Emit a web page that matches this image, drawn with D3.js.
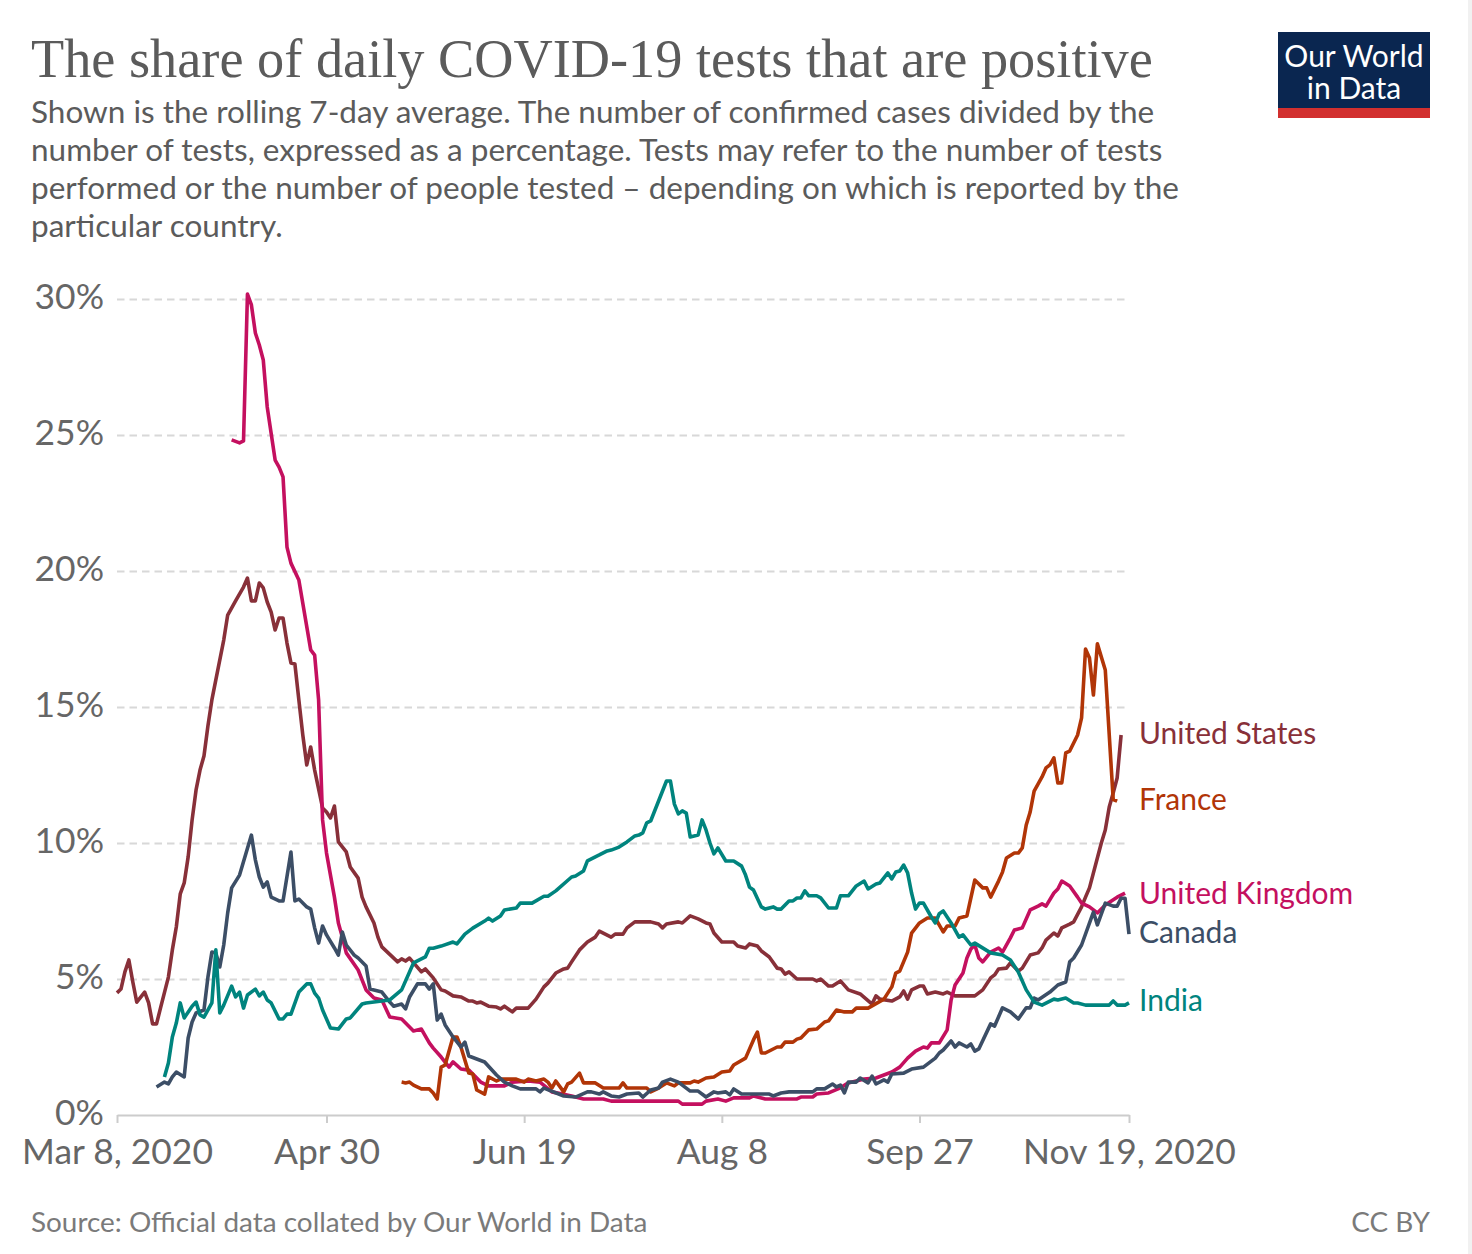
<!DOCTYPE html>
<html>
<head>
<meta charset="utf-8">
<script src="https://cdn.jsdelivr.net/npm/d3@7"></script>
<style>
  html, body { margin: 0; padding: 0; background: #fff; }
  svg { display: block; }
  text { font-family: Lato, sans-serif; }
  .title { font-family: "Liberation Serif", serif; font-size: 54.3px; fill: #5b5b5b; }
  .subtitle { font-size: 31.5px; fill: #5b5b5b; }
  .footer { font-size: 27.9px; fill: #7a7a7a; }
  .tick-label { font-size: 35.4px; fill: #666; }
  .series-label { font-size: 30px; }
</style>
</head>
<body>
<svg width="1472" height="1254"></svg>
<script>
// values are [days since Mar 8 2020, % positive]
var unitedStates = [[0,4.49],[1,4.63],[2,5.26],[3,5.70],[4,4.89],[5,4.15],[7,4.52],[8,4.12],[9,3.35],[10,3.35],[11,3.93],[13,5.07],[14,6.07],[15,6.91],[16,8.13],[17,8.53],[18,9.49],[19,10.85],[20,11.95],[21,12.68],[22,13.2],[23,14.3],[24,15.26],[25,16.0],[27,17.46],[28,18.38],[30,18.9],[32,19.41],[33,19.74],[34,18.9],[35,18.9],[36,19.56],[37,19.38],[38,18.86],[39,18.49],[40,17.83],[41,18.27],[42,18.27],[43,17.35],[44,16.62],[45,16.58],[46,15.26],[47,13.97],[48,12.87],[49,13.53],[50,12.68],[52,11.29],[53,11.14],[54,10.92],[55,11.36],[56,10.04],[58,9.67],[59,9.12],[61,8.71],[62,8.01],[63,7.65],[65,7.06],[66,6.54],[67,6.18],[71,5.63],[72,5.74],[73,5.66],[74,5.77],[77,5.26],[78,5.37],[80,5.04],[82,4.6],[83,4.56],[85,4.38],[87,4.34],[89,4.19],[90,4.19],[91,4.12],[92,4.15],[94,4.0],[96,3.97],[97,3.9],[98,4.0],[100,3.79],[101,3.93],[104,3.93],[106,4.26],[108,4.71],[109,4.85],[111,5.22],[113,5.37],[114,5.4],[115,5.63],[117,6.07],[119,6.36],[121,6.54],[122,6.76],[125,6.54],[126,6.65],[128,6.65],[129,6.88],[131,7.1],[135,7.1],[137,7.02],[138,6.88],[139,7.02],[142,7.1],[143,7.06],[145,7.32],[147,7.21],[149,7.06],[150,7.02],[151,6.69],[153,6.36],[156,6.36],[157,6.21],[159,6.14],[160,6.29],[162,6.21],[163,6.03],[165,5.81],[167,5.4],[168,5.37],[169,5.18],[170,5.26],[172,5.0],[176,5.0],[177,4.93],[178,5.0],[180,4.74],[181,4.74],[183,4.93],[185,4.6],[188,4.45],[191,4.08],[192,4.38],[193,4.26],[196,4.19],[198,4.34],[199,4.56],[200,4.26],[201,4.6],[203,4.74],[204,4.74],[205,4.45],[207,4.52],[209,4.45],[210,4.52],[212,4.38],[217,4.38],[219,4.6],[221,5.04],[222,5.15],[223,5.37],[225,5.4],[226,5.59],[228,5.29],[229,5.4],[231,5.88],[233,5.96],[234,6.14],[235,6.43],[237,6.69],[238,6.58],[239,6.88],[241,7.02],[242,7.1],[244,7.65],[245,8.01],[246,8.35],[249,10.0],[250,10.48],[251,11.32],[252,11.84],[253,12.39],[254,13.97]];

var unitedKingdom = [[29,24.82],[31,24.71],[32,24.78],[33,30.18],[34,29.78],[35,28.75],[36,28.31],[37,27.76],[38,26.03],[40,24.08],[41,23.82],[42,23.46],[43,20.88],[44,20.29],[46,19.67],[49,17.1],[50,16.91],[51,15.26],[52,10.85],[53,9.63],[55,8.01],[56,7.06],[57,6.54],[58,5.96],[61,5.33],[63,4.6],[65,4.3],[67,4.23],[69,3.6],[72,3.53],[75,3.09],[77,3.16],[79,2.65],[80,2.46],[82,2.13],[84,1.76],[85,1.95],[87,1.69],[89,1.65],[92,1.21],[94,1.07],[98,1.07],[100,1.21],[104,1.25],[107,1.21],[110,0.85],[115,0.7],[118,0.59],[123,0.59],[125,0.51],[142,0.51],[143,0.4],[148,0.4],[149,0.51],[152,0.59],[154,0.51],[156,0.63],[160,0.63],[161,0.7],[164,0.59],[172,0.59],[173,0.66],[176,0.66],[177,0.77],[180,0.81],[183,1.0],[185,1.18],[189,1.32],[192,1.36],[196,1.58],[198,1.76],[200,2.09],[202,2.35],[204,2.5],[205,2.46],[206,2.65],[208,2.65],[210,3.13],[211,4.23],[212,4.78],[214,5.22],[215,5.77],[216,6.1],[217,6.25],[218,5.77],[219,5.63],[221,5.99],[223,6.14],[224,5.99],[226,6.51],[227,6.8],[229,6.88],[231,7.54],[233,7.68],[234,7.76],[235,7.68],[237,8.16],[238,8.31],[239,8.6],[241,8.42],[243,8.01],[244,7.79],[246,7.65],[248,7.43],[250,7.72],[253,8.01],[255,8.16]];

var france = [[72,1.21],[73,1.18],[74,1.21],[75,1.1],[77,0.96],[79,0.96],[80,0.81],[81,0.59],[82,1.76],[83,1.84],[85,2.87],[86,2.87],[87,2.5],[89,1.54],[90,1.51],[91,0.92],[93,0.77],[94,1.4],[96,1.25],[97,1.32],[101,1.32],[103,1.21],[104,1.32],[106,1.25],[108,1.32],[109,1.21],[110,0.99],[111,1.25],[113,0.85],[114,1.14],[115,1.21],[117,1.54],[118,1.18],[121,1.18],[123,0.99],[127,0.99],[128,1.18],[129,0.99],[134,0.99],[135,0.85],[137,0.99],[139,1.18],[141,1.07],[142,1.18],[145,1.18],[146,1.25],[147,1.21],[149,1.36],[151,1.4],[153,1.58],[155,1.62],[156,1.84],[159,2.09],[161,2.76],[162,3.05],[163,2.28],[164,2.28],[167,2.5],[168,2.5],[169,2.68],[171,2.68],[172,2.79],[173,2.83],[175,3.13],[177,3.16],[179,3.42],[180,3.46],[182,3.86],[184,3.79],[186,3.79],[187,3.93],[188,3.93],[190,3.93],[194,4.26],[196,4.71],[197,5.22],[198,5.29],[200,5.99],[201,6.69],[203,7.06],[205,7.24],[207,7.24],[209,6.73],[210,6.95],[212,6.95],[213,7.24],[215,7.32],[217,8.64],[219,8.35],[220,8.35],[221,8.01],[223,8.6],[224,8.93],[225,9.45],[227,9.63],[228,9.63],[229,9.82],[230,10.66],[231,11.14],[232,11.91],[234,12.43],[235,12.76],[236,12.87],[237,13.13],[238,12.21],[239,12.21],[240,13.31],[241,13.38],[243,13.97],[244,14.6],[245,17.13],[246,16.8],[247,15.44],[248,17.32],[250,16.36],[252,11.6],[253,11.54]];

var canada = [[10,1.03],[12,1.21],[13,1.14],[14,1.4],[15,1.58],[17,1.4],[18,2.83],[19,3.42],[20,3.75],[22,3.86],[23,5.07],[24,5.99],[25,5.96],[26,5.44],[27,6.25],[28,7.43],[29,8.35],[31,8.82],[34,10.29],[35,9.38],[36,8.75],[37,8.38],[38,8.57],[39,8.01],[41,7.87],[42,7.87],[44,9.67],[45,7.87],[46,7.94],[48,7.65],[49,7.57],[50,6.88],[51,6.32],[52,6.95],[53,6.62],[55,6.14],[56,5.88],[57,6.73],[58,6.25],[60,5.88],[61,5.77],[63,5.48],[64,4.63],[67,4.52],[69,4.15],[70,4.0],[72,4.08],[73,3.9],[74,4.34],[76,4.82],[78,4.82],[79,4.63],[80,4.82],[81,3.49],[82,3.71],[83,3.31],[85,2.87],[87,2.5],[88,2.68],[89,2.17],[91,2.06],[93,1.95],[96,1.47],[98,1.21],[100,1.07],[102,0.96],[106,0.96],[107,0.85],[108,0.99],[113,0.7],[116,0.66],[119,0.85],[120,0.85],[122,0.77],[123,0.85],[125,0.7],[127,0.66],[129,0.77],[132,0.81],[133,0.66],[135,0.92],[137,0.99],[138,1.21],[140,1.32],[142,1.21],[143,1.1],[145,0.88],[147,0.88],[149,0.66],[151,0.85],[152,0.81],[154,0.85],[155,0.74],[156,0.96],[158,0.77],[165,0.77],[166,0.7],[168,0.81],[170,0.85],[176,0.85],[177,0.96],[179,0.96],[181,1.14],[182,1.03],[183,1.1],[184,0.81],[185,1.21],[187,1.21],[188,1.36],[190,1.18],[191,1.43],[192,1.14],[194,1.29],[195,1.21],[196,1.51],[199,1.54],[201,1.69],[204,1.76],[207,2.09],[208,2.28],[209,2.39],[211,2.72],[212,2.5],[213,2.65],[215,2.5],[216,2.61],[217,2.35],[218,2.43],[221,3.35],[222,3.27],[224,3.94],[226,3.79],[228,3.53],[230,3.94],[231,3.94],[232,4.3],[233,4.23],[236,4.52],[238,4.78],[240,4.89],[241,5.63],[242,5.77],[244,6.25],[247,7.46],[248,6.99],[250,7.79],[252,7.68],[253,7.68],[254,7.97],[255,7.97],[256,6.65]];

var india = [[12,1.4],[13,1.91],[14,2.87],[15,3.38],[16,4.12],[17,3.57],[19,4.0],[20,4.15],[21,3.68],[22,3.6],[24,4.12],[25,6.07],[26,3.75],[27,4.04],[29,4.74],[30,4.34],[31,4.52],[32,3.93],[33,4.41],[35,4.63],[36,4.38],[37,4.52],[38,4.23],[39,4.12],[41,3.53],[42,3.53],[43,3.71],[44,3.71],[46,4.52],[48,4.82],[49,4.82],[50,4.48],[51,4.3],[52,3.86],[54,3.2],[56,3.16],[58,3.53],[59,3.57],[62,4.08],[63,4.12],[69,4.23],[72,4.6],[75,5.59],[78,5.81],[79,6.13],[80,6.13],[82,6.21],[85,6.36],[86,6.29],[88,6.65],[90,6.87],[93,7.13],[94,7.24],[95,7.13],[97,7.32],[98,7.54],[101,7.61],[102,7.79],[105,7.79],[108,8.04],[109,8.04],[111,8.24],[115,8.75],[116,8.79],[118,8.97],[119,9.34],[121,9.49],[122,9.56],[124,9.71],[125,9.74],[127,9.85],[129,10.04],[131,10.26],[132,10.29],[133,10.37],[134,10.74],[135,10.81],[139,12.28],[140,12.28],[141,11.43],[142,11.07],[143,11.18],[144,11.1],[145,10.22],[147,10.29],[148,10.85],[149,10.48],[150,10.0],[151,9.6],[152,9.82],[154,9.34],[156,9.34],[158,9.15],[159,8.82],[160,8.38],[161,8.27],[163,7.65],[164,7.57],[166,7.65],[167,7.57],[168,7.57],[170,7.87],[171,7.87],[172,7.98],[173,7.98],[174,8.24],[175,8.06],[177,8.06],[178,7.98],[180,7.61],[182,7.61],[183,8.06],[185,8.06],[187,8.42],[189,8.6],[190,8.31],[192,8.49],[193,8.53],[195,8.9],[196,8.68],[197,8.93],[198,8.97],[199,9.19],[200,8.9],[201,8.16],[202,7.57],[203,7.79],[204,7.79],[206,7.28],[207,7.06],[208,7.4],[209,7.5],[211,7.06],[213,6.54],[214,6.62],[216,6.25],[217,6.32],[221,5.96],[224,5.88],[226,5.7],[228,5.26],[230,4.6],[232,4.15],[234,4.04],[237,4.26],[238,4.23],[240,4.3],[242,4.12],[243,4.12],[245,4.04],[251,4.04],[252,4.19],[253,4.04],[255,4.04],[256,4.12]];

var yTicks = [0, 5, 10, 15, 20, 25, 30];
var xTickDates = ["2020-03-08", "2020-04-30", "2020-06-19", "2020-08-08", "2020-09-27", "2020-11-19"];
var xTickLabels = ["Mar 8, 2020", "Apr 30", "Jun 19", "Aug 8", "Sep 27", "Nov 19, 2020"];
var subtitleLines = [
  "Shown is the rolling 7-day average. The number of confirmed cases divided by the",
  "number of tests, expressed as a percentage. Tests may refer to the number of tests",
  "performed or the number of people tested \u2013 depending on which is reported by the",
  "particular country."
];

// drawn back to front
var series = [
  { name: "United States", values: unitedStates, color: "#883039", labelY: 733 },
  { name: "United Kingdom", values: unitedKingdom, color: "#c4105f", labelY: 893 },
  { name: "France", values: france, color: "#b13507", labelY: 799 },
  { name: "Canada", values: canada, color: "#3c4e66", labelY: 932 },
  { name: "India", values: india, color: "#00847e", labelY: 1000 }
];

var svg = d3.select("svg");
var start = new Date(Date.UTC(2020, 2, 8));

function dayToDate(day) {
  return d3.utcDay.offset(start, day);
}

var x = d3.scaleUtc()
    .domain([start, dayToDate(256)])
    .range([117, 1129]);
var y = d3.scaleLinear()
    .domain([0, 30])
    .range([1115, 299]);

// strip down the right edge of the screenshot
svg.append("rect").attr("x", 1468).attr("y", 0).attr("width", 4).attr("height", 1254).attr("fill", "#f1f1f1");

// header
svg.append("text")
    .attr("class", "title")
    .attr("x", 31)
    .attr("y", 77)
    .text("The share of daily COVID-19 tests that are positive");

svg.selectAll(".subtitle").data(subtitleLines).enter().append("text")
    .attr("class", "subtitle")
    .attr("x", 31)
    .attr("y", function(d, i) { return 123 + i * 38; })
    .text(function(d) { return d; });

// logo
svg.append("rect").attr("x", 1278).attr("y", 32).attr("width", 152).attr("height", 86).attr("fill", "#0a2650");
svg.append("rect").attr("x", 1278).attr("y", 108).attr("width", 152).attr("height", 10).attr("fill", "#d2302f");
svg.selectAll(".logo").data(["Our World", "in Data"]).enter().append("text")
    .attr("class", "logo")
    .attr("x", 1354)
    .attr("y", function(d, i) { return 67 + i * 32; })
    .attr("text-anchor", "middle")
    .attr("fill", "#fff")
    .style("font-size", "30px")
    .text(function(d) { return d; });

// y axis: dashed grid lines with labels
var yAxis = d3.axisLeft(y)
    .tickValues(yTicks)
    .tickSize(-(1129 - 117))
    .tickPadding(13)
    .tickFormat(function(d) { return d + "%"; });

var yGroup = svg.append("g")
    .attr("transform", "translate(117,0)")
    .call(yAxis);
yGroup.select(".domain").remove();
yGroup.selectAll(".tick line")
    .attr("stroke", "#d8d8d8")
    .attr("stroke-width", 2)
    .attr("stroke-dasharray", "7.5,5");
yGroup.selectAll(".tick text").attr("class", "tick-label").attr("dy", "0.28em").attr("fill", null);
yGroup.selectAll(".tick").filter(function(d) { return d === 0; }).select("line").remove();

// x axis
var xAxis = d3.axisBottom(x)
    .tickValues(xTickDates.map(function(d) { return new Date(d + "T00:00:00Z"); }))
    .tickSize(8)
    .tickSizeOuter(0)
    .tickPadding(7)
    .tickFormat(function(d, i) { return xTickLabels[i]; });

var xGroup = svg.append("g")
    .attr("transform", "translate(0,1115)")
    .call(xAxis);
xGroup.select(".domain").attr("stroke", "#ccc").attr("stroke-width", 2);
xGroup.selectAll(".tick line").attr("stroke", "#ccc").attr("stroke-width", 2);
xGroup.selectAll(".tick text").attr("class", "tick-label").attr("fill", null).attr("y", 49).attr("dy", 0);

// lines
var line = d3.line()
    .x(function(d) { return x(dayToDate(d[0])); })
    .y(function(d) { return y(d[1]); });

svg.selectAll(".country").data(series).enter().append("path")
    .attr("class", "country")
    .attr("d", function(d) { return line(d.values); })
    .attr("fill", "none")
    .attr("stroke", function(d) { return d.color; })
    .attr("stroke-width", 3.6)
    .attr("stroke-linejoin", "round");

svg.selectAll(".series-label").data(series).enter().append("text")
    .attr("class", "series-label")
    .attr("x", 1139)
    .attr("y", function(d) { return d.labelY; })
    .attr("dy", "0.35em")
    .attr("fill", function(d) { return d.color; })
    .text(function(d) { return d.name; });

// footer
svg.append("text").attr("class", "footer").attr("x", 31).attr("y", 1232)
    .text("Source: Official data collated by Our World in Data");
svg.append("text").attr("class", "footer").attr("x", 1430).attr("y", 1232)
    .attr("text-anchor", "end")
    .text("CC BY");
</script>
</body>
</html>
